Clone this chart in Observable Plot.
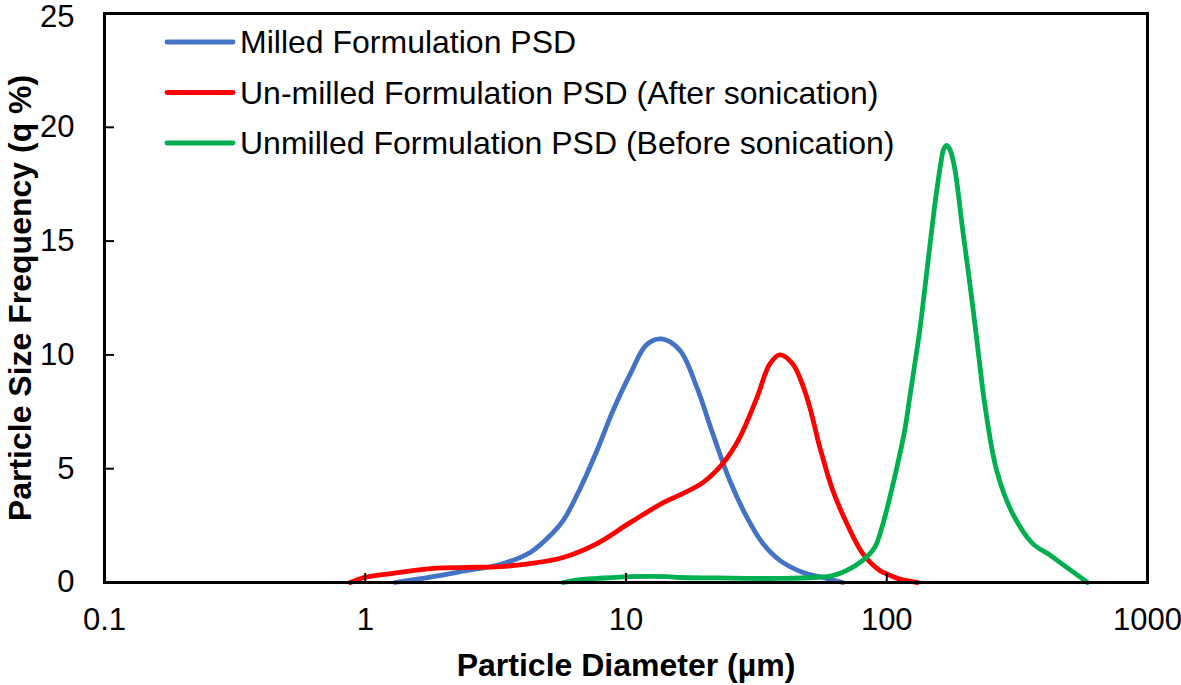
<!DOCTYPE html>
<html><head><meta charset="utf-8">
<script src="https://cdn.jsdelivr.net/npm/d3@7"></script>
<script src="https://cdn.jsdelivr.net/npm/@observablehq/plot@0.6"></script>
<style>
body{margin:0;background:#fff;}
#wrap{position:relative;width:1181px;height:685px;font-family:"Liberation Sans",Arial,sans-serif;}
</style></head><body><div id="wrap"></div>
<script>
const seriesNames = [
  "Milled Formulation PSD",
  "Un-milled Formulation PSD (After sonication)",
  "Unmilled Formulation PSD (Before sonication)"
];
const seriesColors = ["#4472C4", "#FF0000", "#00B050"];

const milledX = [1.30, 1.82, 2.46, 3.29, 4.29, 4.98, 5.74, 6.67, 7.74, 8.92, 10.4, 12.0, 13.7, 16.1, 18.7, 21.5, 25.0, 29.1, 33.5, 38.9, 47.7, 56.9, 67.8];
const milledY = [0, 0.26, 0.53, 0.79, 1.32, 1.93, 2.72, 4.13, 5.8, 7.56, 9.18, 10.45, 10.7, 10.2, 8.57, 6.55, 4.48, 2.86, 1.71, 0.97, 0.44, 0.22, 0];

const unmilledAfterX = [0.876, 0.99, 1.36, 1.82, 2.46, 3.29, 4.29, 5.74, 7.74, 10.4, 13.9, 16.1, 19.7, 23.5, 27.3, 31.8, 35.6, 38.9, 43.6, 49.4, 55.4, 62.1, 70.3, 80.9, 94.0, 100, 112, 131.5];
const unmilledAfterY = [0, 0.22, 0.44, 0.62, 0.66, 0.70, 0.83, 1.10, 1.71, 2.64, 3.51, 3.85, 4.39, 5.23, 6.37, 8.13, 9.6, 10.0, 9.6, 8.13, 5.93, 4.04, 2.59, 1.27, 0.53, 0.38, 0.15, 0];

const unmilledBeforeX = [5.74, 6.67, 7.74, 10.4, 14.4, 16.1, 22.3, 29.1, 40.0, 52.1, 62.1, 70.3, 80.9, 90.0, 96.0, 102.7, 110.2, 117.2, 122.5, 128.1, 133.8, 138.6, 143.6, 148.8, 154.1, 161.1, 165.5, 169.8, 175.0, 182.2, 195.5, 211.7, 227.2, 237.4, 264, 304, 363, 421, 472, 589];
const unmilledBeforeY = [0, 0.13, 0.18, 0.26, 0.26, 0.22, 0.2, 0.18, 0.18, 0.22, 0.3, 0.53, 0.97, 1.55, 2.45, 3.73, 5.23, 6.68, 8.13, 9.6, 11.07, 12.5, 14.0, 15.5, 16.9, 18.4, 19.05, 19.2, 19.0, 18.2, 15.5, 12.5, 9.6, 7.86, 4.92, 3.03, 1.71, 1.22, 0.8, 0];

const xTicks = [0.1, 1, 10, 100, 1000];
const xTickLabels = ["0.1", "1", "10", "100", "1000"];
const yTicks = [0, 5, 10, 15, 20, 25];
const xTitle = "Particle Diameter (µm)";
const yTitle = "Particle Size Frequency (q %)";

const rows = [];
[[milledX, milledY], [unmilledAfterX, unmilledAfterY], [unmilledBeforeX, unmilledBeforeY]].forEach(([xs, ys], i) => {
  xs.forEach((x, j) => rows.push({series: seriesNames[i], x, y: ys[j]}));
});

const FONT = "'Liberation Sans', Arial, sans-serif";
const yMax = yTicks[yTicks.length - 1];

const chart = Plot.plot({
  width: 1181, height: 685,
  marginLeft: 104, marginRight: 34, marginTop: 13, marginBottom: 103,
  style: {fontFamily: FONT, background: "white", color: "black", overflow: "visible"},
  x: {type: "log", domain: [0.1, 1000]},
  y: {domain: [0, yMax]},
  color: {domain: seriesNames, range: seriesColors},
  marks: [
    Plot.line(rows, {x: "x", y: "y", z: "series", stroke: "series", strokeWidth: 4.8, curve: "catmull-rom"}),
    Plot.tickX(xTicks, {x: d => d, insetTop: 560, stroke: "black", strokeWidth: 2}),
    Plot.tickY(yTicks, {y: d => d, insetRight: 1033, stroke: "black", strokeWidth: 2}),
    Plot.frame({stroke: "black", strokeWidth: 3}),
    Plot.axisX({ticks: xTicks, tickSize: 0, tickPadding: 25, fontSize: 31, tickFormat: d => xTickLabels[xTicks.indexOf(d)], label: null}),
    Plot.axisY({ticks: yTicks.filter(d => d < yMax), tickSize: 0, tickPadding: 30, fontSize: 31, label: null}),
    Plot.axisY({ticks: [yMax], tickSize: 0, tickPadding: 30, fontSize: 31, dy: 4, label: null}),
    Plot.text([xTitle], {frameAnchor: "bottom", dy: 93, text: d => d, fontSize: 32, fontWeight: "bold", fill: "black"}),
    Plot.text([yTitle], {frameAnchor: "left", textAnchor: "middle", dx: -84, rotate: -90, text: d => d, fontSize: 32, fontWeight: "bold", fill: "black"})
  ]
});

const wrap = document.getElementById("wrap");
wrap.appendChild(chart);

const legend = d3.create("svg")
  .attr("width", 1181).attr("height", 685)
  .style("position", "absolute").style("left", "0px").style("top", "0px")
  .style("pointer-events", "none");
seriesNames.forEach((name, i) => {
  const y = 42 + i * 50.5;
  legend.append("line")
    .attr("x1", 167).attr("x2", 233).attr("y1", y).attr("y2", y)
    .attr("stroke", seriesColors[i]).attr("stroke-width", 4.8).attr("stroke-linecap", "round");
  legend.append("text")
    .attr("x", 240).attr("y", y + 11)
    .attr("font-family", FONT).attr("font-size", 32).attr("fill", "black")
    .text(name);
});
wrap.appendChild(legend.node());
</script>
</body></html>
